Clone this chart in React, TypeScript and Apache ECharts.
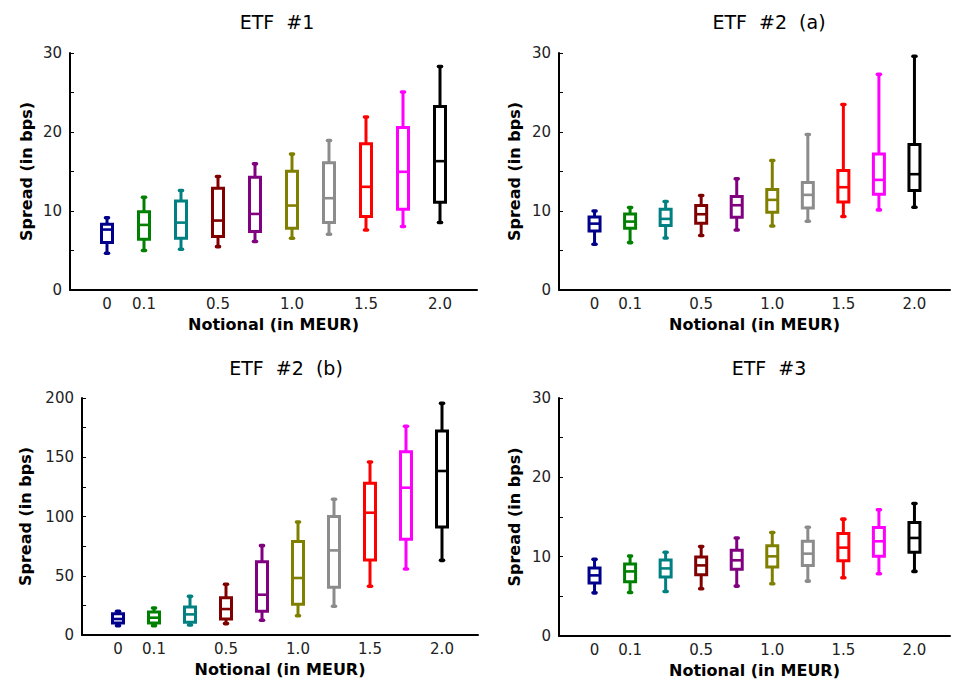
import React, { useEffect, useRef } from "react";
import * as echarts from "echarts";

// Category axis (index 0 and 11 are empty padding slots)
const xCategories = ["", "0", "0.1", "", "0.5", "", "1.0", "", "1.5", "", "2.0", ""];
const boxColors = ["#00008b", "#008000", "#008080", "#800000", "#800080", "#808000", "#8c8c8c", "#ff0000", "#ff00ff", "#000000"];

// Each row: [min, q1, median, q3, max]
const etf1 = [
  [4.65, 6.0, 7.65, 8.33, 9.15],
  [5.0, 6.42, 8.24, 9.9, 11.75],
  [5.15, 6.55, 8.53, 11.28, 12.6],
  [5.49, 6.76, 8.79, 12.89, 14.37],
  [6.13, 7.39, 9.63, 14.28, 15.97],
  [6.55, 7.82, 10.69, 15.04, 17.2],
  [7.06, 8.54, 11.62, 16.1, 18.93],
  [7.6, 9.3, 13.06, 18.5, 21.89],
  [8.03, 10.23, 14.96, 20.58, 25.06],
  [8.54, 11.11, 16.31, 23.24, 28.3],
];
const etf2a = [
  [5.79, 7.48, 8.4, 9.25, 10.0],
  [6.0, 7.82, 8.66, 9.63, 10.44],
  [6.59, 8.15, 9.0, 10.22, 11.2],
  [6.89, 8.45, 9.59, 10.69, 11.96],
  [7.6, 9.21, 10.73, 11.83, 14.07],
  [8.11, 9.85, 11.41, 12.72, 16.39],
  [8.7, 10.39, 12.04, 13.6, 19.69],
  [9.3, 11.15, 13.01, 15.13, 23.49],
  [10.14, 12.13, 13.94, 17.2, 27.3],
  [10.48, 12.59, 14.66, 18.42, 29.58],
];
const etf2b = [
  [7.9, 10.1, 13.5, 18.0, 20.0],
  [7.9, 10.1, 14.6, 19.4, 22.8],
  [8.4, 10.7, 17.4, 23.6, 32.6],
  [9.6, 13.5, 21.9, 31.5, 42.8],
  [12.4, 20.0, 34.0, 61.9, 75.4],
  [16.3, 25.9, 48.1, 79.0, 95.4],
  [24.2, 40.2, 71.4, 99.9, 114.5],
  [41.1, 63.3, 103.2, 128.0, 146.0],
  [55.7, 80.7, 124.3, 154.7, 176.1],
  [63.0, 91.1, 138.4, 172.2, 195.5],
];
const etf3 = [
  [5.44, 6.67, 7.64, 8.57, 9.66],
  [5.49, 6.84, 8.14, 9.07, 10.08],
  [5.61, 7.43, 8.52, 9.58, 10.55],
  [5.95, 7.72, 8.9, 9.96, 11.27],
  [6.29, 8.4, 9.54, 10.8, 12.36],
  [6.58, 8.69, 10.04, 11.39, 13.04],
  [6.92, 8.9, 10.38, 11.94, 13.71],
  [7.34, 9.49, 11.14, 12.91, 14.73],
  [7.85, 10.04, 11.94, 13.67, 15.91],
  [8.14, 10.55, 12.36, 14.3, 16.71],
];

const titles = ["ETF  #1", "ETF  #2  (a)", "ETF  #2  (b)", "ETF  #3"];
const yMaxes = [30, 30, 200, 30];
const yIntervals = [5, 5, 25, 5];
const yLabelSteps = [10, 10, 50, 10];
const panels = [etf1, etf2a, etf2b, etf3];

const FONT = "DejaVu Sans";

export default function App() {
  const ref = useRef<HTMLDivElement>(null);

  useEffect(() => {
    if (!ref.current) return;
    const chart = echarts.init(ref.current, undefined, { renderer: "svg" });

    const grids = [
      { left: 70, top: 53, width: 407, height: 237 },
      { left: 559, top: 53, width: 407, height: 237 },
      { left: 82, top: 398, width: 396, height: 237 },
      { left: 559, top: 398, width: 407, height: 238 },
    ];
    const yNameGaps = [36, 37, 49, 37];
    const titlePos = [
      [277, 22],
      [769, 22],
      [286, 368],
      [769, 368],
    ];

    const renderItem = (params: any, api: any) => {
      const x = api.value(0);
      const color = boxColors[params.dataIndex];
      const pMin = api.coord([x, api.value(1)]);
      const pQ1 = api.coord([x, api.value(2)]);
      const pMed = api.coord([x, api.value(3)]);
      const pQ3 = api.coord([x, api.value(4)]);
      const pMax = api.coord([x, api.value(5)]);
      const cx = pMed[0];
      const hw = 5.5;
      const style = { stroke: color, lineWidth: 3, fill: "none" };
      const capStyle = { stroke: color, lineWidth: 3.6, lineCap: "round" };
      return {
        type: "group",
        children: [
          { type: "line", shape: { x1: cx, y1: pMax[1], x2: cx, y2: pQ3[1] }, style },
          { type: "line", shape: { x1: cx, y1: pQ1[1], x2: cx, y2: pMin[1] }, style },
          { type: "rect", shape: { x: cx - hw, y: pQ3[1], width: 2 * hw, height: pQ1[1] - pQ3[1] }, style },
          { type: "line", shape: { x1: cx - hw, y1: pMed[1], x2: cx + hw, y2: pMed[1] }, style: { stroke: color, lineWidth: 2.6 } },
          { type: "line", shape: { x1: cx - 1.5, y1: pMax[1], x2: cx + 1.5, y2: pMax[1] }, style: capStyle },
          { type: "line", shape: { x1: cx - 1.5, y1: pMin[1], x2: cx + 1.5, y2: pMin[1] }, style: capStyle },
        ],
      };
    };

    const option: any = {
      animation: false,
      backgroundColor: "#ffffff",
      grid: grids.map((g) => ({ ...g, containLabel: false })),
      xAxis: grids.map((_, i) => ({
        type: "category",
        gridIndex: i,
        data: xCategories,
        boundaryGap: false,
        name: "Notional (in MEUR)",
        nameLocation: "middle",
        nameGap: 26,
        nameTextStyle: { fontFamily: FONT, fontSize: 16, fontWeight: "bold", color: "#000" },
        axisLine: { show: true, lineStyle: { color: "#000", width: 2 } },
        axisTick: { show: false },
        axisLabel: { interval: 0, fontFamily: FONT, fontSize: 15, color: "#222", margin: 6 },
        splitLine: { show: false },
      })),
      yAxis: grids.map((_, i) => ({
        type: "value",
        gridIndex: i,
        min: 0,
        max: yMaxes[i],
        interval: yIntervals[i],
        name: "Spread (in bps)",
        nameLocation: "middle",
        nameGap: yNameGaps[i],
        nameTextStyle: { fontFamily: FONT, fontSize: 16, fontWeight: "bold", color: "#000" },
        axisLine: { show: true, lineStyle: { color: "#000", width: 2 } },
        axisTick: { show: true, inside: true, length: 4, lineStyle: { color: "#000", width: 1 } },
        axisLabel: {
          fontFamily: FONT,
          fontSize: 15,
          color: "#222",
          margin: 8,
          formatter: (v: number) => (v % yLabelSteps[i] === 0 ? String(v) : ""),
        },
        splitLine: { show: false },
      })),
      series: panels.map((rows, i) => ({
        type: "custom",
        xAxisIndex: i,
        yAxisIndex: i,
        encode: { x: 0, y: [1, 2, 3, 4, 5] },
        data: rows.map((r, k) => [k + 1, ...r]),
        renderItem,
        clip: false,
      })),
      graphic: titles.map((t, i) => ({
        type: "text",
        x: titlePos[i][0],
        y: titlePos[i][1],
        style: {
          text: t,
          fontFamily: FONT,
          fontSize: 19,
          fill: "#000",
          textAlign: "center",
          textVerticalAlign: "middle",
        },
      })),
    };

    chart.setOption(option);
    return () => chart.dispose();
  }, []);

  return (
    <div
      ref={ref}
      style={{ position: "fixed", left: 0, top: 0, width: 953, height: 680, background: "#fff" }}
    />
  );
}
